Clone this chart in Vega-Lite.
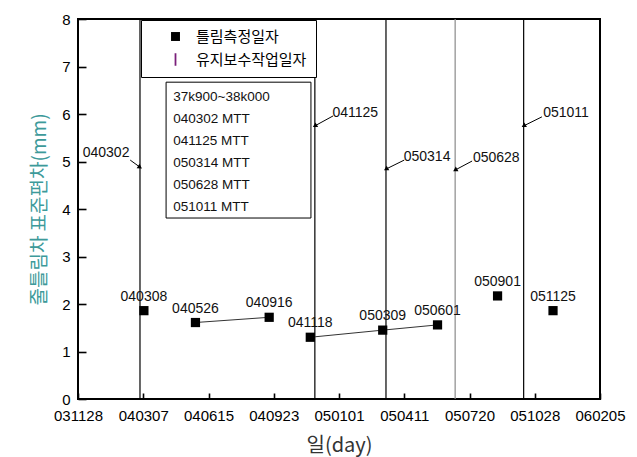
{
  "$schema": "https://vega.github.io/schema/vega-lite/v6.json",
  "width": 522,
  "height": 380,
  "autosize": {"type": "none"},
  "padding": {"left": 78, "top": 19, "right": 37, "bottom": 58},
  "config": {
    "view": {"stroke": "black", "strokeWidth": 2},
    "font": "Liberation Sans",
    "axis": {
      "grid": false,
      "domain": false,
      "tickColor": "black",
      "tickWidth": 1.6,
      "labelFont": "Liberation Sans",
      "labelFontSize": 15,
      "labelColor": "black",
      "labelFlush": false,
      "labelOverlap": false,
      "labelBound": false,
      "titleFont": "Noto Sans CJK KR",
      "titleFontWeight": "normal"
    }
  },
  "datasets": {
    "pts": [
      {"date": "2004-03-08", "label": "040308", "sd": 1.86, "kind": "틀림측정일자"},
      {"date": "2004-05-26", "label": "040526", "sd": 1.61, "seg": "a", "kind": "틀림측정일자"},
      {"date": "2004-09-16", "label": "040916", "sd": 1.72, "seg": "a", "kind": "틀림측정일자"},
      {"date": "2004-11-18", "label": "041118", "sd": 1.30, "seg": "b", "kind": "틀림측정일자"},
      {"date": "2005-03-09", "label": "050309", "sd": 1.45, "seg": "b", "kind": "틀림측정일자"},
      {"date": "2005-06-01", "label": "050601", "sd": 1.56, "seg": "b", "kind": "틀림측정일자"},
      {"date": "2005-09-01", "label": "050901", "sd": 2.17, "kind": "틀림측정일자"},
      {"date": "2005-11-25", "label": "051125", "sd": 1.86, "kind": "틀림측정일자"}
    ],
    "maint": [
      {"date": "2004-03-02", "label": "040302", "lx": "2004-01-10", "ly": 5.18, "ax": "2004-02-16", "ay": 5.03, "ty": 4.88},
      {"date": "2004-11-25", "label": "041125", "lx": "2005-01-26", "ly": 6.02, "ax": "2004-12-23", "ay": 5.96, "ty": 5.75},
      {"date": "2005-03-14", "label": "050314", "lx": "2005-05-16", "ly": 5.09, "ax": "2005-04-11", "ay": 5.03, "ty": 4.84},
      {"date": "2005-06-28", "label": "050628", "lx": "2005-08-30", "ly": 5.07, "ax": "2005-07-24", "ay": 5.01, "ty": 4.82},
      {"date": "2005-10-11", "label": "051011", "lx": "2005-12-15", "ly": 6.02, "ax": "2005-11-08", "ay": 5.94, "ty": 5.75}
    ],
    "info": [
      {"x1": "2004-04-11", "x2": "2004-11-19", "y1": 6.67, "y2": 3.81, "tx": "2004-04-22", "ty": 6.36,
       "text": "37k900~38k000\n040302 MTT\n041125 MTT\n050314 MTT\n050628 MTT\n051011 MTT"}
    ]
  },
  "layer": [
    {
      "data": {"name": "maint"},
      "mark": {"type": "rule", "strokeWidth": 1.2},
      "encoding": {
        "x": {
          "field": "date", "type": "temporal", "title": "일(day)",
          "scale": {"type": "utc", "nice": false, "domain": [
            {"year": 2003, "month": 11, "date": 28, "utc": true},
            {"year": 2006, "month": 2, "date": 5, "utc": true}]},
          "axis": {
            "values": [
              {"year": 2003, "month": 11, "date": 28, "utc": true},
              {"year": 2004, "month": 1, "date": 17, "utc": true},
              {"year": 2004, "month": 3, "date": 7, "utc": true},
              {"year": 2004, "month": 4, "date": 26, "utc": true},
              {"year": 2004, "month": 6, "date": 15, "utc": true},
              {"year": 2004, "month": 8, "date": 4, "utc": true},
              {"year": 2004, "month": 9, "date": 23, "utc": true},
              {"year": 2004, "month": 11, "date": 12, "utc": true},
              {"year": 2005, "month": 1, "date": 1, "utc": true},
              {"year": 2005, "month": 2, "date": 20, "utc": true},
              {"year": 2005, "month": 4, "date": 11, "utc": true},
              {"year": 2005, "month": 5, "date": 31, "utc": true},
              {"year": 2005, "month": 7, "date": 20, "utc": true},
              {"year": 2005, "month": 9, "date": 8, "utc": true},
              {"year": 2005, "month": 10, "date": 28, "utc": true},
              {"year": 2005, "month": 12, "date": 17, "utc": true},
              {"year": 2006, "month": 2, "date": 5, "utc": true}
            ],
            "labelExpr": "round((datum.value - utc(2003,10,28))/86400000) % 100 == 0 ? utcFormat(datum.value, '%y%m%d') : ''",
            "offset": -6,
            "tickSize": 6,
            "tickDash": {"condition": {"test": "round((datum.value - utc(2003,10,28))/86400000) % 100 == 0", "value": [10, 0]}, "value": [0, 2, 4, 20]},
            "labelPadding": 9,
            "title": "일(day)",
            "titleFontSize": 20,
            "titleColor": "#333333",
            "titlePadding": 12
          }
        },
        "color": {"condition": {"test": "datum.label == '050628'", "value": "#8a8a8a"}, "value": "black"}
      }
    },
    {
      "data": {"name": "info"},
      "mark": {"type": "rect", "fill": "white", "stroke": "black", "strokeWidth": 1},
      "encoding": {
        "x": {"field": "x1", "type": "temporal", "title": "일(day)"},
        "x2": {"field": "x2"},
        "y": {
          "field": "y1", "type": "quantitative", "title": "줄틀림차 표준편차(mm)",
          "scale": {"domain": [0, 8], "nice": false, "zero": true},
          "axis": {
            "values": [0, 0.5, 1, 1.5, 2, 2.5, 3, 3.5, 4, 4.5, 5, 5.5, 6, 6.5, 7, 7.5, 8],
            "labelExpr": "datum.value % 1 == 0 ? datum.label : ''",
            "offset": -8,
            "tickSize": 8,
            "tickDash": {"condition": {"test": "datum.value % 1 == 0", "value": [10, 0]}, "value": [0, 4, 4, 20]},
            "labelPadding": 8,
            "title": "줄틀림차 표준편차(mm)",
            "titleFontSize": 19,
            "titleColor": "#3d9a9a",
            "titlePadding": 12
          }
        },
        "y2": {"field": "y2"}
      }
    },
    {
      "data": {"name": "info"},
      "mark": {"type": "text", "align": "left", "baseline": "middle", "lineBreak": "\n", "lineHeight": 22, "fontSize": 13.5, "font": "Liberation Sans", "color": "#111111"},
      "encoding": {
        "x": {"field": "tx", "type": "temporal", "title": "일(day)"},
        "y": {"field": "ty", "type": "quantitative", "title": "줄틀림차 표준편차(mm)"},
        "text": {"field": "text"}
      }
    },
    {
      "data": {"name": "pts"},
      "transform": [{"filter": "isValid(datum.seg)"}],
      "mark": {"type": "line", "color": "#333333", "strokeWidth": 1},
      "encoding": {
        "x": {"field": "date", "type": "temporal", "title": "일(day)"},
        "y": {"field": "sd", "type": "quantitative", "title": "줄틀림차 표준편차(mm)"},
        "detail": {"field": "seg"}
      }
    },
    {
      "data": {"name": "pts"},
      "mark": {"type": "point", "filled": true, "size": 85, "opacity": 1},
      "encoding": {
        "x": {"field": "date", "type": "temporal", "title": "일(day)"},
        "y": {"field": "sd", "type": "quantitative", "title": "줄틀림차 표준편차(mm)"},
        "shape": {
          "field": "kind", "type": "nominal",
          "scale": {"domain": ["틀림측정일자", "유지보수작업일자"], "range": ["square", "M-0.2,-1.4H0.2V1.4H-0.2Z"]},
          "legend": {
            "title": null, "orient": "none", "legendX": 63, "legendY": 1,
            "strokeColor": "black", "fillColor": "white", "padding": 9,
            "symbolOffset": 18, "labelOffset": 13, "rowPadding": 7,
            "labelFont": "Noto Sans CJK KR", "labelFontSize": 15, "labelColor": "black",
            "symbolSize": 80
          }
        },
        "color": {
          "field": "kind", "type": "nominal",
          "scale": {"domain": ["틀림측정일자", "유지보수작업일자"], "range": ["black", "#7a1f7a"]},
          "legend": {
            "title": null, "orient": "none", "legendX": 63, "legendY": 1,
            "strokeColor": "black", "fillColor": "white", "padding": 9,
            "symbolOffset": 18, "labelOffset": 13, "rowPadding": 7,
            "labelFont": "Noto Sans CJK KR", "labelFontSize": 15, "labelColor": "black",
            "symbolSize": 80
          }
        }
      }
    },
    {
      "data": {"name": "pts"},
      "mark": {"type": "text", "dy": -10, "baseline": "alphabetic", "fontSize": 14, "font": "Liberation Sans", "color": "#111111"},
      "encoding": {
        "x": {"field": "date", "type": "temporal", "title": "일(day)"},
        "y": {"field": "sd", "type": "quantitative", "title": "줄틀림차 표준편차(mm)"},
        "text": {"field": "label"}
      }
    },
    {
      "data": {"name": "maint"},
      "mark": {"type": "text", "baseline": "middle", "fontSize": 14, "font": "Liberation Sans", "color": "#111111"},
      "encoding": {
        "x": {"field": "lx", "type": "temporal", "title": "일(day)"},
        "y": {"field": "ly", "type": "quantitative", "title": "줄틀림차 표준편차(mm)"},
        "text": {"field": "label"}
      }
    },
    {
      "data": {"name": "maint"},
      "mark": {"type": "rule", "strokeWidth": 1, "color": "black"},
      "encoding": {
        "x": {"field": "ax", "type": "temporal", "title": "일(day)"},
        "x2": {"field": "date"},
        "y": {"field": "ay", "type": "quantitative", "title": "줄틀림차 표준편차(mm)"},
        "y2": {"field": "ty"}
      }
    },
    {
      "data": {"name": "maint"},
      "mark": {"type": "point", "shape": "triangle-up", "filled": true, "size": 28, "color": "black", "opacity": 1},
      "encoding": {
        "x": {"field": "date", "type": "temporal", "title": "일(day)"},
        "y": {"field": "ty", "type": "quantitative", "title": "줄틀림차 표준편차(mm)"},
        "angle": {"condition": {"test": "datum.label == '040302'", "value": 122}, "value": 240}
      }
    }
  ]
}
